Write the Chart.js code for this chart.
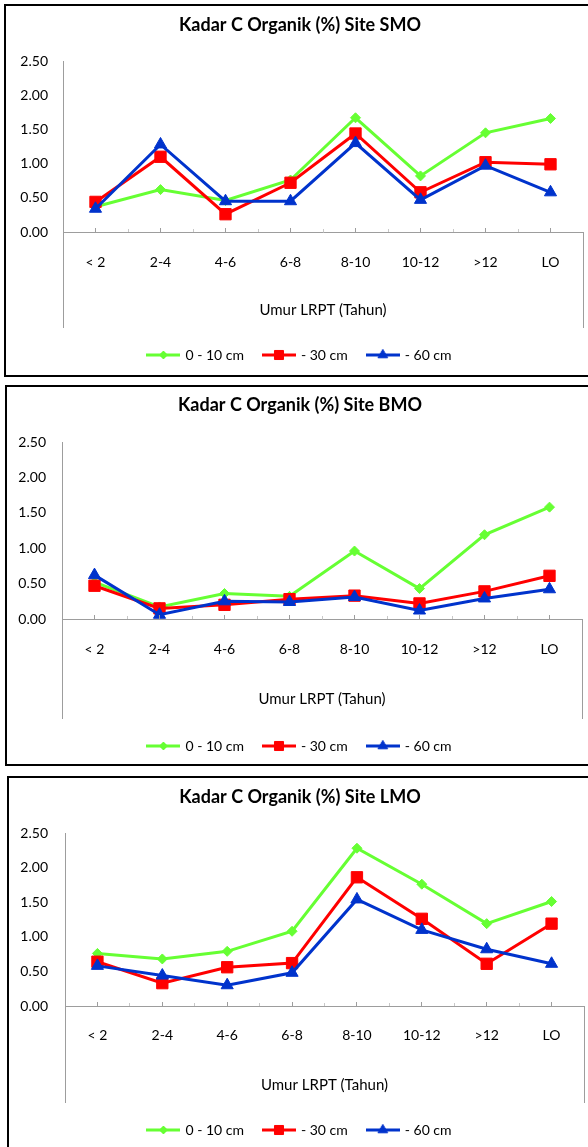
<!DOCTYPE html>
<html>
<head>
<meta charset="utf-8">
<script src="https://cdn.jsdelivr.net/npm/chart.js@4.4.1/dist/chart.umd.min.js"></script>
<style>
  html, body { margin: 0; padding: 0; background: #fff; overflow: hidden; }
  body { width: 588px; height: 1147px; position: relative; }
  .panel { position: absolute; border: 2px solid #000; box-sizing: border-box; width: 640px; }
  canvas { position: absolute; left: 0; }
</style>
</head>
<body>
<div class="panel" style="left:4px; top:4px; height:373px"></div>
<div class="panel" style="left:5px; top:385px; height:381px"></div>
<div class="panel" style="left:7px; top:776px; height:400px"></div>
<canvas id="smo"></canvas>
<canvas id="bmo"></canvas>
<canvas id="lmo"></canvas>
<script>
const ageClasses = ['< 2', '2-4', '4-6', '6-8', '8-10', '10-12', '>12', 'LO'];
const layerLabels = ['0 - 10 cm', '- 30 cm', '- 60 cm'];
const yTicks = [0, 0.5, 1, 1.5, 2, 2.5];

// Site SMO
const smo0_10 = [0.37, 0.62, 0.46, 0.76, 1.67, 0.82, 1.45, 1.66];
const smo30 = [0.44, 1.10, 0.26, 0.72, 1.44, 0.58, 1.02, 0.99];
const smo60 = [0.34, 1.28, 0.45, 0.45, 1.30, 0.47, 0.97, 0.58];

// Site BMO
const bmo0_10 = [0.52, 0.17, 0.36, 0.32, 0.96, 0.43, 1.19, 1.58];
const bmo30 = [0.47, 0.15, 0.20, 0.28, 0.33, 0.22, 0.39, 0.61];
const bmo60 = [0.62, 0.06, 0.25, 0.24, 0.31, 0.12, 0.29, 0.42];

// Site LMO
const lmo0_10 = [0.76, 0.68, 0.79, 1.08, 2.28, 1.76, 1.19, 1.51];
const lmo30 = [0.64, 0.33, 0.56, 0.62, 1.86, 1.26, 0.61, 1.19];
const lmo60 = [0.58, 0.44, 0.30, 0.48, 1.54, 1.10, 0.82, 0.61];

const GREEN = '#66FF33';
const RED = '#FF0000';
const BLUE = '#0033CC';
const AXIS_GREY = '#9d9d9d';
const CANVAS_W = 600;

const TITLE_SIZE = 18;
const TICK_SIZE = 14;
const AXIS_TITLE_SIZE = 15;
const LEGEND_SIZE = 14;

Chart.defaults.font.family = 'Lato';
Chart.defaults.color = '#000';

function crisp(px) {
    return Math.round(px - 0.5) + 0.5;
}

// y axis carries on below the zero line, a frame line on the right,
// and short tick marks above the category axis
const axisExtras = {
    id: 'axisExtras',
    afterDraw(chart) {
        const ctx = chart.ctx;
        const a = chart.chartArea;
        const x = chart.scales.x;
        ctx.save();
        ctx.lineWidth = 1;
        ctx.strokeStyle = AXIS_GREY;
        ctx.beginPath();
        ctx.moveTo(crisp(a.left), a.bottom);
        ctx.lineTo(crisp(a.left), x.bottom);
        ctx.moveTo(crisp(a.right), a.bottom);
        ctx.lineTo(crisp(a.right), x.bottom);
        for (let i = 0; i < ageClasses.length; i++) {
            const px = crisp(x.getPixelForValue(i));
            ctx.moveTo(px, a.bottom);
            ctx.lineTo(px, a.bottom - 4);
        }
        ctx.stroke();
        ctx.strokeStyle = '#c8c8c8';
        ctx.beginPath();
        for (let i = 0; i < ageClasses.length - 1; i++) {
            const px = crisp(x.getPixelForValue(i + 0.5));
            ctx.moveTo(px, a.bottom);
            ctx.lineTo(px, a.bottom - 3);
        }
        ctx.stroke();
        ctx.restore();
    }
};

function legendIcon(ds) {
    const c = document.createElement('canvas');
    c.width = 34;
    c.height = 16;
    const ctx = c.getContext('2d');
    ctx.strokeStyle = ds.borderColor;
    ctx.lineWidth = 3;
    ctx.beginPath();
    ctx.moveTo(0, 8);
    ctx.lineTo(34, 8);
    ctx.stroke();
    ctx.lineWidth = 1;
    ctx.fillStyle = ds.backgroundColor;
    Chart.helpers.drawPoint(ctx, {
        pointStyle: ds.pointStyle,
        radius: ds.pointRadius * 0.8,
        borderWidth: 1,
        rotation: 0
    }, 17, 8);
    return c;
}

function buildChart(id, title, green, red, blue, g) {
    const canvas = document.getElementById(id);
    const side = CANVAS_W - g.plotRight;
    canvas.width = CANVAS_W;
    canvas.height = g.extBottom + LEGEND_SIZE + 30;
    canvas.style.top = g.top + 'px';

    const series = [
        {data: green, color: GREEN, style: 'rectRot', radius: 5, order: 3},
        {data: red, color: RED, style: 'rect', radius: 8, order: 2},
        {data: blue, color: BLUE, style: 'triangle', radius: 7, order: 1}
    ];

    const titleHalf = TITLE_SIZE * 0.6;
    const config = {
        type: 'line',
        data: {
            labels: ageClasses,
            datasets: series.map((s, i) => ({
                label: layerLabels[i],
                data: s.data,
                borderColor: s.color,
                backgroundColor: s.color,
                borderWidth: 3,
                pointStyle: s.style,
                pointRadius: s.radius,
                pointHoverRadius: s.radius,
                pointBorderWidth: 1,
                tension: 0,
                order: s.order
            }))
        },
        options: {
            responsive: false,
            animation: false,
            layout: {padding: {left: side, right: side, top: 0, bottom: 0}},
            plugins: {
                title: {
                    display: true,
                    text: title,
                    color: '#000',
                    font: {size: TITLE_SIZE, weight: 'bold'},
                    padding: {top: g.titleY - titleHalf, bottom: g.plotTop - g.titleY - titleHalf}
                },
                legend: {
                    position: 'bottom',
                    labels: {
                        usePointStyle: true,
                        pointStyleWidth: 30,
                        padding: 20,
                        font: {size: LEGEND_SIZE},
                        generateLabels: chart => chart.data.datasets.map((ds, i) => ({
                            text: ds.label,
                            pointStyle: legendIcon(ds),
                            fontColor: '#000',
                            fillStyle: 'transparent',
                            strokeStyle: 'transparent',
                            lineWidth: 0,
                            hidden: false,
                            datasetIndex: i
                        }))
                    }
                },
                tooltip: {enabled: false}
            },
            scales: {
                x: {
                    offset: true,
                    grid: {display: false, drawTicks: false},
                    border: {display: true, color: AXIS_GREY, width: 1},
                    ticks: {
                        color: '#000',
                        font: {size: TICK_SIZE},
                        padding: g.labelY - g.plotBottom - TICK_SIZE * 0.6,
                        maxRotation: 0,
                        autoSkip: false
                    },
                    title: {
                        display: true,
                        text: 'Umur LRPT (Tahun)',
                        color: '#000',
                        font: {size: AXIS_TITLE_SIZE},
                        padding: {top: 0, bottom: g.extBottom - g.axisTitleY - AXIS_TITLE_SIZE * 0.6}
                    },
                    afterFit: scale => { scale.height = g.extBottom - g.plotBottom; }
                },
                y: {
                    min: 0,
                    max: 2.5,
                    afterBuildTicks: scale => { scale.ticks = yTicks.map(v => ({value: v})); },
                    grid: {display: false, drawTicks: false},
                    border: {display: true, color: AXIS_GREY, width: 1},
                    ticks: {
                        color: '#000',
                        font: {size: TICK_SIZE},
                        padding: g.plotLeft - g.labelRight,
                        callback: v => v.toFixed(2)
                    },
                    afterFit: scale => { scale.width = g.plotLeft - side; }
                }
            }
        },
        plugins: [axisExtras]
    };
    return new Chart(canvas, config);
}

buildChart('smo', 'Kadar C Organik (%) Site SMO', smo0_10, smo30, smo60, {
    top: 6, titleY: 19, plotTop: 55, plotBottom: 226, labelY: 256,
    axisTitleY: 304, extBottom: 322, plotLeft: 63, plotRight: 583, labelRight: 48
});
buildChart('bmo', 'Kadar C Organik (%) Site BMO', bmo0_10, bmo30, bmo60, {
    top: 387, titleY: 18, plotTop: 55, plotBottom: 232, labelY: 262,
    axisTitleY: 312, extBottom: 332, plotLeft: 62, plotRight: 582, labelRight: 46
});
buildChart('lmo', 'Kadar C Organik (%) Site LMO', lmo0_10, lmo30, lmo60, {
    top: 778, titleY: 19, plotTop: 55, plotBottom: 228, labelY: 257,
    axisTitleY: 307, extBottom: 325, plotLeft: 65, plotRight: 584, labelRight: 48
});
</script>
</body>
</html>
